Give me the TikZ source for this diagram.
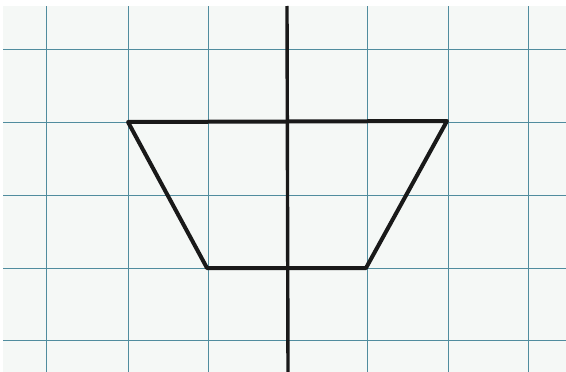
\documentclass[tikz,border=0pt]{standalone}
\begin{document}
\begin{tikzpicture}[x=1pt,y=-1pt,
  gridline/.style={draw=gridblue,line width=0.9pt},
  shapeline/.style={draw=black!90,line width=4pt,line join=round,line cap=round},
  axisline/.style={draw=black!90,line width=3.4pt}]
\definecolor{gridblue}{RGB}{80,140,158}
\definecolor{paper}{RGB}{245,248,246}
\useasboundingbox (0,0) rectangle (566,372);
\fill[white] (0,0) rectangle (566,372);
\fill[paper] (3,6) rectangle (566,372);
% vertical grid lines
\foreach \x in {46,128,208,367,448,528}
  \draw[gridline] (\x,6) -- (\x,372);
% horizontal grid lines
\foreach \y in {49,122,195,268,340}
  \draw[gridline] (3,\y) -- (566,\y);
% axis
\coordinate (axtop) at (287,6);
\coordinate (axbot) at (288,372);
\draw[axisline] (axtop) -- (axbot);
% trapezoid
\coordinate (tl) at (128,122);
\coordinate (tr) at (447,121);
\coordinate (br) at (366,268);
\coordinate (bl) at (207,268);
\draw[shapeline] (tl) -- (tr) -- (br) -- (bl) -- cycle;
\end{tikzpicture}
\end{document}
